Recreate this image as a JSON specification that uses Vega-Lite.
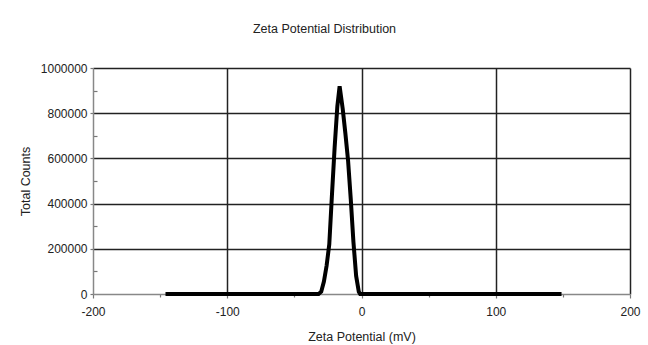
{
  "$schema": "https://vega.github.io/schema/vega-lite/v6.json",
  "width": 537,
  "height": 226,
  "autosize": {"type": "none"},
  "padding": {"left": 93, "top": 68, "right": 18, "bottom": 51},
  "background": "white",
  "title": {
    "text": "Zeta Potential Distribution",
    "fontSize": 12.5,
    "fontWeight": "normal",
    "font": "Liberation Sans",
    "color": "#222",
    "anchor": "middle",
    "frame": "group",
    "dx": -37,
    "offset": 27
  },
  "data": {
    "values": [
      {"zeta": -146, "counts": 0},
      {"zeta": -32, "counts": 0},
      {"zeta": -30, "counts": 10000},
      {"zeta": -28, "counts": 55000},
      {"zeta": -26, "counts": 125000},
      {"zeta": -24, "counts": 220000},
      {"zeta": -22, "counts": 440000},
      {"zeta": -20, "counts": 650000},
      {"zeta": -18, "counts": 830000},
      {"zeta": -16.3, "counts": 919000},
      {"zeta": -14, "counts": 820000},
      {"zeta": -12, "counts": 710000},
      {"zeta": -10, "counts": 590000},
      {"zeta": -8, "counts": 420000},
      {"zeta": -6, "counts": 230000},
      {"zeta": -4, "counts": 80000},
      {"zeta": -2, "counts": 10000},
      {"zeta": -1, "counts": 0},
      {"zeta": 149, "counts": 0}
    ]
  },
  "mark": {"type": "line", "color": "black", "strokeWidth": 4, "strokeJoin": "miter", "clip": false},
  "encoding": {
    "x": {
      "field": "zeta",
      "type": "quantitative",
      "scale": {"domain": [-200, 200], "nice": false, "zero": false},
      "axis": {
        "title": "Zeta Potential (mV)",
        "values": [-200, -150, -100, -50, 0, 50, 100, 150, 200],
        "labelExpr": "datum.value % 100 == 0 ? '' + datum.value : ''",
        "labelFlush": false,
        "tickSize": {"condition": {"test": "datum.value % 100 == 0", "value": 4}, "value": 3},
        "gridOpacity": {"condition": {"test": "datum.value % 100 == 0 && datum.value != -200", "value": 1}, "value": 0},
        "labelPadding": 8,
        "titlePadding": 13
      }
    },
    "y": {
      "field": "counts",
      "type": "quantitative",
      "scale": {"domain": [0, 1000000], "nice": false},
      "axis": {
        "title": "Total Counts",
        "values": [0, 100000, 200000, 300000, 400000, 500000, 600000, 700000, 800000, 900000, 1000000],
        "labelExpr": "datum.value % 200000 == 0 ? '' + datum.value : ''",
        "labelFlush": false,
        "tickSize": {"condition": {"test": "datum.value % 200000 == 0", "value": 3}, "value": -4},
        "gridOpacity": {"condition": {"test": "datum.value % 200000 == 0 && datum.value != 0", "value": 1}, "value": 0},
        "labelPadding": 3,
        "titlePadding": 8
      }
    }
  },
  "config": {
    "font": "Liberation Sans",
    "view": {"stroke": null},
    "axis": {
      "labelFont": "Liberation Sans",
      "titleFont": "Liberation Sans",
      "labelFontSize": 12,
      "titleFontSize": 12.5,
      "titleFontWeight": "normal",
      "labelColor": "#222",
      "titleColor": "#222",
      "domainColor": "#888",
      "domainWidth": 1.5,
      "tickColor": "#777",
      "tickWidth": 1.2,
      "gridColor": "#222",
      "gridWidth": 1.5,
      "grid": true
    }
  }
}
